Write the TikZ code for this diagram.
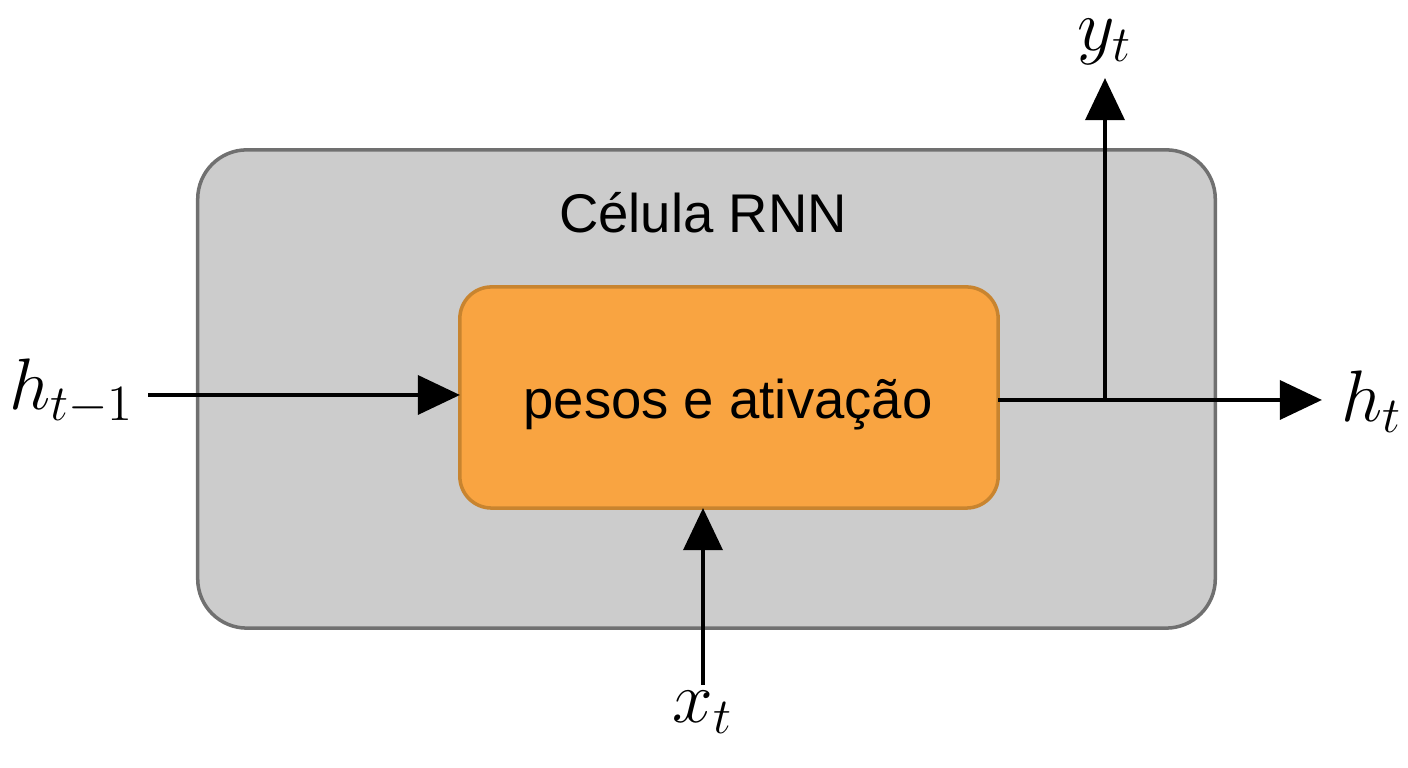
\documentclass[tikz,border=0pt]{standalone}
\usepackage{fontspec}
\setmainfont{Liberation Sans}
\usetikzlibrary{arrows.meta}
\begin{document}
\begin{tikzpicture}[x=0.01cm,y=-0.01cm,
  arr/.style={line width=1.4pt,-{Triangle[length=12pt,width=11pt]}},
  lbl/.style={font=\fontsize{21}{25}\selectfont},
  txt/.style={font=\fontsize{15.5}{18}\selectfont}]
\useasboundingbox (0,0) rectangle (1408,768);
\definecolor{cellgray}{HTML}{CCCCCC}
\definecolor{cellborder}{HTML}{707070}
\definecolor{orng}{HTML}{F9A441}
\definecolor{orngb}{HTML}{C8842F}
\node[fill=cellgray,draw=cellborder,line width=1pt,rounded corners=14pt,
  minimum width=10.17cm,minimum height=4.78cm,inner sep=0pt] (cell) at (706.5,389) {};
\node[txt] (title) at (703,213) {Célula RNN};
\node[draw=orngb,fill=orng,line width=1pt,rounded corners=9pt,
  minimum width=5.38cm,minimum height=2.21cm,inner sep=0pt] (core) at (729,397.5) {};
\coordinate (coreW) at (460,395);
\coordinate (coreE) at (998,400);
\coordinate (coreS) at (703,508);
\node[txt] (ptxt) at (728,405) {pesos e ativação};
\node[lbl] (hin) at (72,392) {$h_{t-1}$};
\node[lbl] (hout) at (1372,402) {$h_t$};
\node[lbl] (y) at (1105,42) {$y_t$};
\node[lbl] (x) at (703,712) {$x_t$};
\coordinate (split) at (1105,400);
\coordinate (hinE) at (148,395);
\coordinate (houtW) at (1322,400);
\coordinate (yS) at (1105,78);
\coordinate (xN) at (703,685);
\draw[arr] (hinE) -- (coreW);
\draw[line width=1.4pt] (coreE) -- (split);
\draw[arr] (split) -- (houtW);
\draw[arr] (split) -- (yS);
\draw[arr] (xN) -- (coreS);
\end{tikzpicture}
\end{document}
